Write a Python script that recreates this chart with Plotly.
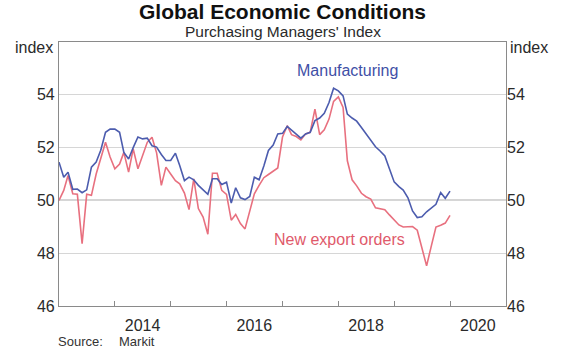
import pandas as pd
import plotly.graph_objects as go

# ---- data (monthly, Jan 2013 - Jan 2020) ----
months = pd.date_range("2013-01-01", periods=85, freq="MS")

manufacturing = [
    51.45, 50.88, 51.07, 50.42, 50.43, 50.29, 50.40, 51.26, 51.45, 51.90, 52.58, 52.70,
    52.70, 52.58, 51.82, 51.57, 52.00, 52.40, 52.33, 52.36, 52.07, 52.02, 51.74, 51.51,
    51.51, 51.79, 51.32, 50.75, 50.88, 50.78, 50.57, 50.38, 50.23, 50.82, 50.82, 50.60,
    50.69, 49.90, 50.48, 50.10, 50.03, 50.15, 50.88, 50.78, 51.30, 51.89, 52.10, 52.52,
    52.54, 52.80, 52.67, 52.52, 52.36, 52.52, 52.58, 53.02, 53.12, 53.30, 53.71, 54.25,
    54.15, 53.96, 53.27, 53.12, 53.00, 52.76, 52.53, 52.26, 52.03, 51.87, 51.68, 51.20,
    50.70, 50.52, 50.39, 50.10, 49.60, 49.35, 49.38, 49.57, 49.73, 49.85, 50.30, 50.08,
    50.35,
]

export_orders = [
    50.00, 50.38, 50.94, 50.25, 50.23, 48.36, 50.23, 50.19, 51.00, 51.64, 52.20, 51.64,
    51.20, 51.38, 51.82, 51.07, 51.95, 51.20, 51.70, 52.20, 52.39, 51.80, 50.57, 51.26,
    51.00, 50.75, 50.63, 50.28, 49.65, 50.82, 49.69, 49.37, 48.72, 51.03, 51.03, 50.38,
    50.23, 49.25, 49.47, 49.12, 48.92, 49.62, 50.25, 50.57, 50.86, 50.98, 51.11, 51.23,
    52.40, 52.83, 52.49, 52.42, 52.29, 52.52, 52.58, 53.46, 52.49, 52.67, 53.08, 53.75,
    53.92, 53.52, 51.50, 50.78, 50.55, 50.27, 50.14, 50.05, 49.72, 49.68, 49.65, 49.45,
    49.25, 49.07, 48.99, 48.99, 49.01, 48.87, 48.24, 47.52, 48.28, 48.99, 49.06, 49.14,
    49.43,
]

y_ticks = [46, 48, 50, 52, 54]
x_label_years = ["2014", "2016", "2018", "2020"]
x_tick_years = [2014, 2015, 2016, 2017, 2018, 2019, 2020]

# ---- styles ----
BLUE = "#4c5cae"
RED = "#e8707f"
BLUE_TXT = "#3f4fa6"
RED_TXT = "#e05a6b"
AXIS = "#8a8a8a"
FONT = "Liberation Sans, Arial, sans-serif"

fig = go.Figure()
fig.add_trace(go.Scatter(x=months, y=export_orders, mode="lines",
                         line=dict(color=RED, width=1.6), name="New export orders"))
fig.add_trace(go.Scatter(x=months, y=manufacturing, mode="lines",
                         line=dict(color=BLUE, width=1.6), name="Manufacturing"))
# invisible trace to activate the right-hand axis
fig.add_trace(go.Scatter(x=[months[0]], y=[None], yaxis="y2", showlegend=False,
                         hoverinfo="skip", mode="lines"))

L, R, T, B = 59, 506, 42, 306


def px_x(x):
    return (x - L) / (R - L)


def px_y(y):
    return (B - y) / (B - T)


fig.update_layout(
    width=580, height=352,
    margin=dict(l=L, r=580 - R, t=T, b=352 - B),
    paper_bgcolor="white", plot_bgcolor="white", showlegend=False,
    font=dict(family=FONT, size=16, color="#2a2a2a"),
    xaxis=dict(
        type="date",
        range=["2013-01-01", "2021-01-01"],
        tickvals=[f"{y}-07-01" for y in x_label_years],
        ticktext=x_label_years,
        ticks="", showgrid=False,
        showline=True, linecolor=AXIS, linewidth=1.2, mirror=True,
        ticklabelstandoff=5,
        minor=dict(tickvals=[f"{y}-01-01" for y in x_tick_years],
                   ticks="inside", ticklen=5, tickcolor=AXIS, tickwidth=1.2,
                   showgrid=False),
        fixedrange=True,
    ),
    yaxis=dict(
        range=[46, 56], tickvals=y_ticks, ticks="",
        showgrid=True, gridcolor="#d6d6d6", gridwidth=1,
        showline=True, linecolor=AXIS, linewidth=1.2, mirror=True,
        zeroline=False,
    ),
    yaxis2=dict(
        range=[46, 56], tickvals=y_ticks, ticks="",
        overlaying="y", side="right", showgrid=False, showline=False,
        zeroline=False,
    ),
    shapes=[dict(type="line", xref="paper", x0=0, x1=1, yref="y", y0=50, y1=50,
                 line=dict(color="#5a5a5a", width=1.3), layer="between")],
    annotations=[
        dict(text="<b>Global Economic Conditions</b>", xref="paper", yref="paper",
             x=0.5, y=px_y(11), showarrow=False, font=dict(size=21, color="#111111"),
             xanchor="center", yanchor="middle"),
        dict(text="Purchasing Managers' Index", xref="paper", yref="paper",
             x=0.5, y=px_y(31.5), showarrow=False, font=dict(size=15.5),
             xanchor="center", yanchor="middle"),
        dict(text="index", xref="paper", yref="paper", x=px_x(55), y=px_y(48),
             showarrow=False, xanchor="right", yanchor="middle", font=dict(size=16)),
        dict(text="index", xref="paper", yref="paper", x=px_x(508), y=px_y(48),
             showarrow=False, xanchor="left", yanchor="middle", font=dict(size=16)),
        dict(text="Manufacturing", xref="paper", yref="paper", x=px_x(347), y=px_y(70),
             showarrow=False, xanchor="center", yanchor="middle",
             font=dict(size=16, color=BLUE_TXT)),
        dict(text="New export orders", xref="paper", yref="paper", x=px_x(339), y=px_y(239),
             showarrow=False, xanchor="center", yanchor="middle",
             font=dict(size=16, color=RED_TXT)),
        dict(text="Source:", xref="paper", yref="paper", x=px_x(56), y=px_y(342),
             showarrow=False, xanchor="left", yanchor="middle",
             font=dict(size=13, color="#333333")),
        dict(text="Markit", xref="paper", yref="paper", x=px_x(117), y=px_y(342),
             showarrow=False, xanchor="left", yanchor="middle",
             font=dict(size=13, color="#333333")),
    ],
)

fig.write_html("out.html")
